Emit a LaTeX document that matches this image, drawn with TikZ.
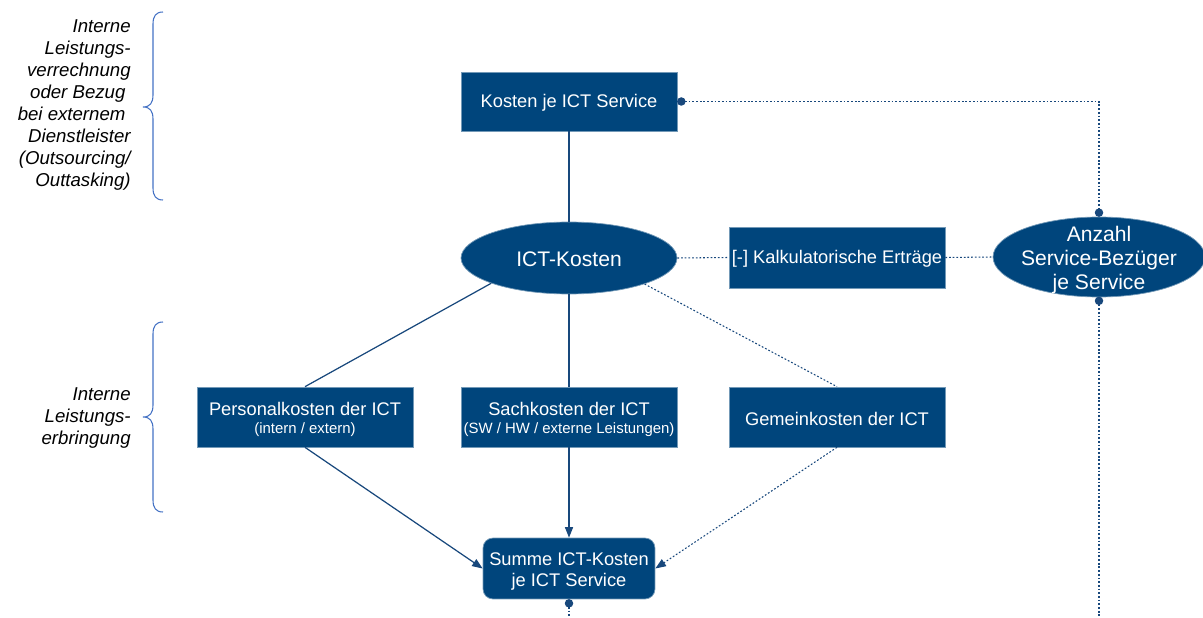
\documentclass[tikz,border=0pt]{standalone}
\usepackage{fontspec}
\setmainfont{Liberation Sans}
\usetikzlibrary{shapes.geometric,arrows.meta}
\definecolor{boxblue}{RGB}{0,69,124}
\definecolor{linec}{RGB}{24,72,124}
\definecolor{bracec}{RGB}{68,114,196}
\begin{document}
\begin{tikzpicture}[x=0.02cm,y=-0.02cm,
  box/.style={rectangle, fill=boxblue, draw=boxblue!55!white, line width=0.4pt,
    minimum width=4.32cm, minimum height=1.2cm, inner sep=0pt},
  oval/.style={ellipse, fill=boxblue, draw=boxblue!55!white, line width=0.4pt, inner sep=0pt},
  boxtext/.style={text=white, align=center, inner sep=0pt, font=\fontsize{10.4}{12}\selectfont},
  ovaltext/.style={text=white, align=center, inner sep=0pt, font=\fontsize{12}{13.9}\selectfont},
  solidline/.style={draw=linec, line width=0.7pt},
  dotline/.style={draw=linec, line width=0.6pt, dash pattern=on 1pt off 1.1pt},
  tip/.style={-{Triangle[length=6pt,width=4.6pt]}},
  dotmark/.style={fill=linec},
  sidetext/.style={anchor=east, align=right, inner sep=0pt, text=black,
    font=\fontsize{10.6}{12.55}\selectfont\itshape},
  bracepath/.style={draw=bracec, line width=0.6pt}
]
\useasboundingbox (0,0) rectangle (1203,618);

% shapes
\node[box, minimum height=1.18cm] (kosten) at (569,101.5) {};
\node[oval, minimum width=4.32cm, minimum height=1.44cm] (ict) at (569,258) {};
\node[box, minimum height=1.22cm] (kalk) at (837,257.5) {};
\node[oval, minimum width=4.24cm, minimum height=1.6cm] (anz) at (1099,257) {};
\node[box] (pers) at (305,417) {};
\node[box] (sach) at (569,417) {};
\node[box] (gem) at (837,417) {};
\node[box, rounded corners=0.2cm, minimum width=3.44cm, minimum height=1.22cm] (summe) at (569,568.5) {};

% texts
\node[boxtext] (kostentext) at ([yshift=-0.03cm]kosten.center) {Kosten je ICT Service};
\node[ovaltext] (icttext) at ([yshift=-0.03cm]ict.center) {ICT-Kosten};
\node[boxtext] (kalktext) at ([yshift=-0.03cm]kalk.center) {[-] Kalkulatorische Erträge};
\node[ovaltext] (anztext) at ([yshift=-0.06cm]anz.center) {Anzahl\\Service-Bezüger\\je Service};
\node[boxtext, font=\fontsize{10.4}{10.2}\selectfont] (perstext) at ([yshift=-0.05cm]pers.center)
  {Personalkosten der ICT\\{\fontsize{8.5}{10.2}\selectfont (intern / extern)}};
\node[boxtext, font=\fontsize{10.4}{10.2}\selectfont] (sachtext) at ([yshift=-0.05cm]sach.center)
  {Sachkosten der ICT\\{\fontsize{8.5}{10.2}\selectfont (SW / HW / externe Leistungen)}};
\node[boxtext] (gemtext) at ([yshift=-0.03cm]gem.center) {Gemeinkosten der ICT};
\node[boxtext] (summetext) at ([yshift=-0.06cm]summe.center) {Summe ICT-Kosten\\je ICT Service};

% dot coordinates
\coordinate (kdot) at ([xshift=0.08cm]kosten.east);
\coordinate (atop) at ([yshift=0.08cm]anz.north);
\coordinate (abot) at ([yshift=-0.07cm]anz.south);
\coordinate (sdot) at ([yshift=-0.08cm]summe.south);
\coordinate (aend) at (abot |- 0,618);
\coordinate (send) at (sdot |- 0,618);

% connectors
\draw[solidline] (kosten.south) -- (ict.north);
\draw[dotline] (ict.east) -- (kalk.west);
\draw[dotline] (kalk.east) -- (anz.west);
\draw[dotline] (kdot) -- (kdot -| atop) -- (atop);
\draw[dotline] (abot) -- (aend);
\draw[dotline] (sdot) -- (send);
\draw[solidline] (ict.198) -- (pers.north);
\draw[solidline] (ict.south) -- (sach.north);
\draw[dotline] (ict.341) -- (gem.north);
\draw[solidline, tip] (pers.south) -- (summe.west);
\draw[solidline, tip] (sach.south) -- (summe.north);
\draw[dotline, tip] (gem.south) -- (summe.east);

\fill[dotmark] (kdot) circle (0.085cm);
\fill[dotmark] (atop) circle (0.085cm);
\fill[dotmark] (abot) circle (0.085cm);
\fill[dotmark] (sdot) circle (0.085cm);

% side texts
\node[sidetext] (toptext) at (131,105)
  {Interne\\Leistungs-\\verrechnung\\oder Bezug\kern0.28em\\bei externem\kern0.28em\\Dienstleister\\(Outsourcing/\\Outtasking)};
\node[sidetext] (bottext) at (131,418) {Interne\\Leistungs-\\erbringung};

% braces
\draw[bracepath] (163,12) .. controls (156,12) and (153,16) .. (153,24) -- (153,95)
  .. controls (153,103) and (150,107) .. (143,107)
  .. controls (150,107) and (153,111) .. (153,119) -- (153,188)
  .. controls (153,196) and (156,200) .. (163,200);
\draw[bracepath] (163,322) .. controls (156,322) and (153,326) .. (153,334) -- (153,405)
  .. controls (153,413) and (150,417) .. (143,417)
  .. controls (150,417) and (153,421) .. (153,429) -- (153,500)
  .. controls (153,508) and (156,512) .. (163,512);
\end{tikzpicture}
\end{document}
